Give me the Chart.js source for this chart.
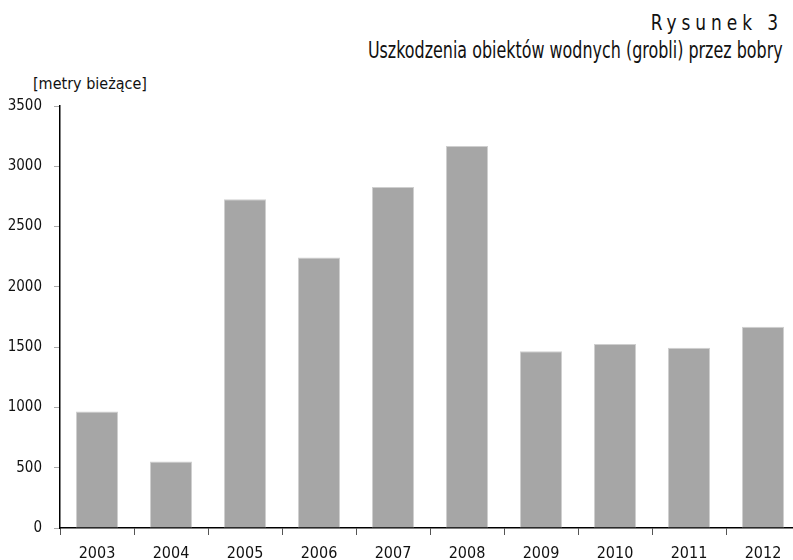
<!DOCTYPE html>
<html lang="pl">
<head>
  <meta charset="UTF-8" />
  <title>Rysunek 3</title>
  <script src="https://cdn.jsdelivr.net/npm/chart.js"></script>
  <style>
    * {
      margin: 0;
      padding: 0;
      box-sizing: border-box;
    }
    body {
      width: 793px;
      height: 560px;
      overflow: hidden;
      background: #fff;
      position: relative;
      font-family: 'DejaVu Sans Condensed', 'DejaVu Sans', sans-serif;
      color: #111;
    }
    .fig {
      position: absolute;
      right: 10px;
      top: 11px;
      font-size: 21px;
      letter-spacing: 5.5px;
      transform: scaleX(0.9);
      transform-origin: right top;
      white-space: nowrap;
    }
    .title {
      position: absolute;
      right: 10px;
      top: 37px;
      font-size: 23px;
      transform: scaleX(0.77);
      transform-origin: right top;
      white-space: nowrap;
    }
    .unit {
      position: absolute;
      left: 33px;
      top: 74px;
      font-size: 16px;
      white-space: nowrap;
    }
    canvas {
      position: absolute;
      left: 0;
      top: 0;
    }
  </style>
</head>
<body>
  <div class="fig">Rysunek 3</div>
  <div class="title">Uszkodzenia obiektów wodnych (grobli) przez bobry</div>
  <div class="unit">[metry bieżące]</div>
  <canvas id="chart" width="810" height="560"></canvas>

  <script>
    const years = ['2003', '2004', '2005', '2006', '2007', '2008', '2009', '2010', '2011', '2012'];
    const damage = [966, 552, 2727, 2244, 2829, 3169, 1466, 1526, 1496, 1670];
    const yTicks = [0, 500, 1000, 1500, 2000, 2500, 3000, 3500];

    const fam = "'DejaVu Sans Condensed', 'DejaVu Sans', sans-serif";

    new Chart(document.getElementById('chart'), {
      type: 'bar',
      data: {
        labels: years,
        datasets: [{
          data: damage,
          backgroundColor: '#a6a6a6',
          borderColor: '#cfcfcf',
          borderWidth: 1,
          barPercentage: 0.57,
          categoryPercentage: 1
        }]
      },
      options: {
        responsive: false,
        animation: false,
        layout: { padding: { top: 106, right: 10, left: 0, bottom: 0 } },
        plugins: {
          legend: { display: false },
          tooltip: { enabled: false }
        },
        scales: {
          x: {
            grid: {
              offset: true,
              drawOnChartArea: false,
              tickLength: 7,
              color: '#555'
            },
            border: { color: '#000', width: 1.5 },
            ticks: { color: '#111', font: { family: fam, size: 16 }, padding: 9, maxRotation: 0 },
            afterFit: s => { s.height = 32; }
          },
          y: {
            min: 0,
            max: 3500,
            afterBuildTicks: s => { s.ticks = yTicks.map(v => ({ value: v })); },
            grid: {
              drawOnChartArea: false,
              tickLength: 6,
              color: '#aaa'
            },
            border: { color: '#000', width: 1.5 },
            ticks: {
              color: '#111',
              font: { family: fam, size: 15 },
              padding: 12,
              callback: v => String(v)
            },
            afterFit: s => { s.width = 60; }
          }
        }
      }
    });
  </script>
</body>
</html>
